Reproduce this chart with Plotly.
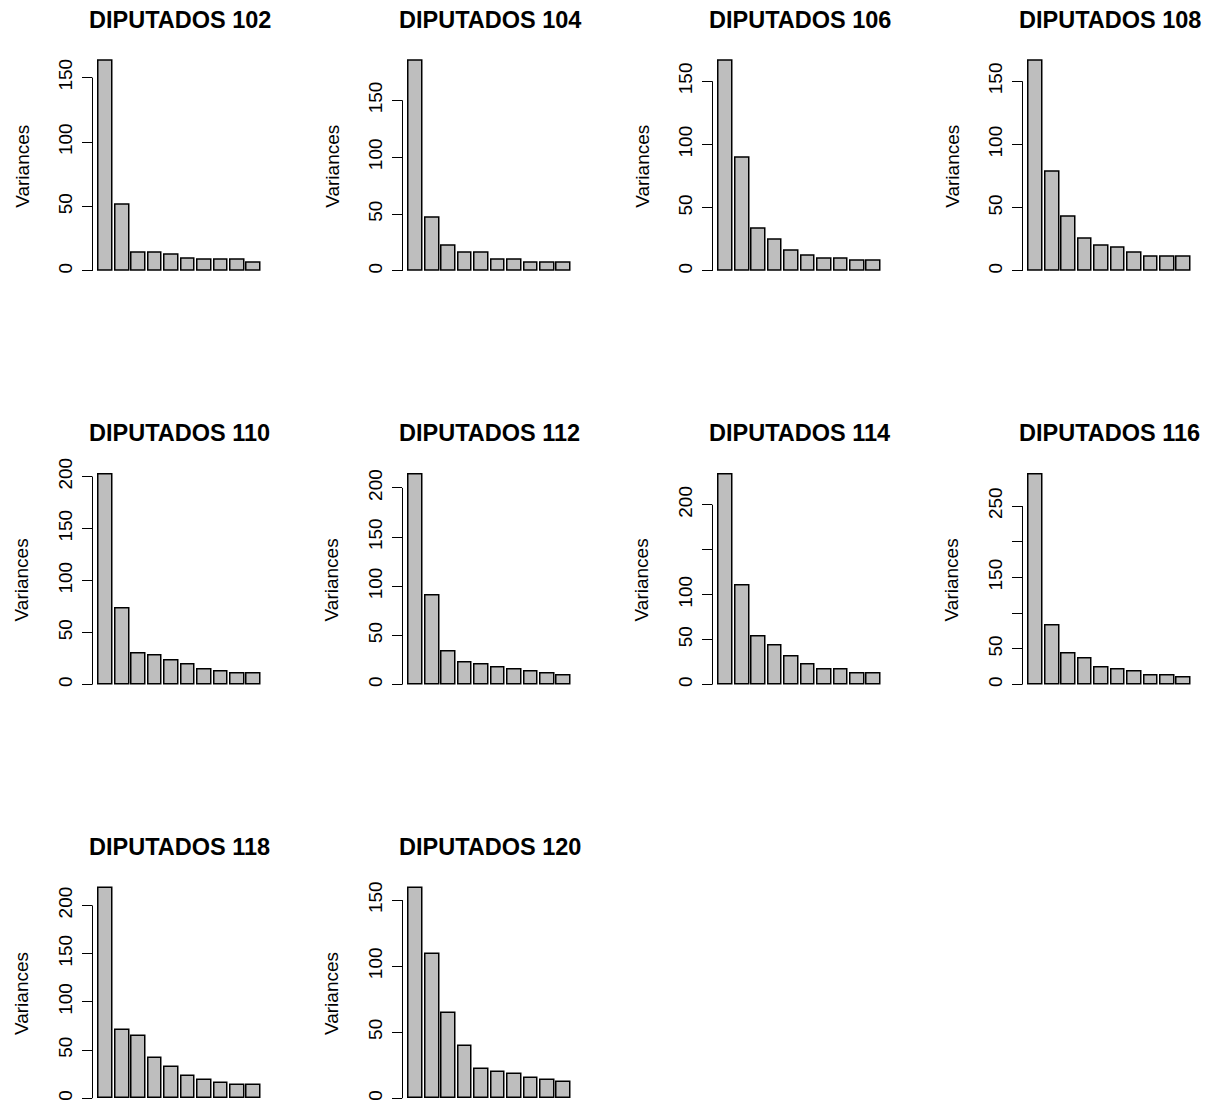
import plotly.graph_objects as go

# ---- data ----
titles = ["DIPUTADOS 102", "DIPUTADOS 104", "DIPUTADOS 106", "DIPUTADOS 108",
          "DIPUTADOS 110", "DIPUTADOS 112", "DIPUTADOS 114", "DIPUTADOS 116",
          "DIPUTADOS 118", "DIPUTADOS 120"]
components = ["PC1", "PC2", "PC3", "PC4", "PC5", "PC6", "PC7", "PC8", "PC9", "PC10"]

v102 = [162.7, 51.2, 14.0, 14.0, 12.4, 9.8, 8.3, 8.3, 8.3, 6.7]
v104 = [184.3, 46.9, 22.3, 15.8, 15.8, 9.7, 9.7, 7.3, 7.3, 7.3]
v106 = [165.8, 89.1, 33.2, 24.5, 16.1, 11.6, 9.8, 9.8, 8.4, 8.4]
v108 = [165.8, 78.6, 43.2, 25.8, 20.0, 18.7, 14.2, 11.3, 11.3, 11.3]
v110 = [201.6, 73.2, 30.3, 28.4, 23.2, 19.4, 14.5, 12.6, 10.3, 10.3]
v112 = [213.3, 90.8, 34.1, 22.5, 20.5, 17.1, 15.4, 13.3, 11.3, 9.2]
v114 = [233.2, 109.7, 53.4, 43.3, 31.0, 22.4, 16.8, 16.8, 11.9, 11.9]
v116 = [293.7, 83.2, 44.2, 36.2, 23.5, 21.1, 18.3, 12.7, 12.7, 9.9]
v118 = [217.6, 70.9, 64.7, 42.0, 32.4, 23.1, 18.9, 15.5, 13.4, 13.4]
v120 = [158.8, 108.8, 64.1, 39.2, 22.4, 19.6, 18.1, 15.3, 14.1, 12.6]
series = [v102, v104, v106, v108, v110, v112, v114, v116, v118, v120]

# y tick positions and their labels (R drops labels that would overlap)
tickvals = [
    [0, 50, 100, 150], [0, 50, 100, 150], [0, 50, 100, 150], [0, 50, 100, 150],
    [0, 50, 100, 150, 200], [0, 50, 100, 150, 200], [0, 50, 100, 150, 200],
    [0, 50, 100, 150, 200, 250], [0, 50, 100, 150, 200], [0, 50, 100, 150],
]
ticktext = [
    ["0", "50", "100", "150"], ["0", "50", "100", "150"], ["0", "50", "100", "150"],
    ["0", "50", "100", "150"], ["0", "50", "100", "150", "200"],
    ["0", "50", "100", "150", "200"], ["0", "50", "100", "", "200"],
    ["0", "50", "", "150", "", "250"], ["0", "50", "100", "150", "200"],
    ["0", "50", "100", "150"],
]

# ---- layout geometry (pixels) ----
W, H = 1214, 1108
FONT = "Liberation Sans, Arial, Helvetica, sans-serif"
col_x0 = 92.5      # left edge of plot region, column 0
col_step = 310.0
plot_w = 174.6
row_y0 = 44.2      # top edge of plot region, row 0
row_step = 417.0
plot_h = 228.4
title_gap = 33.5
label_gap = 70.8

fig = go.Figure()
annotations = []
shapes = []

for k, (vals, title) in enumerate(zip(series, titles)):
    r, c = divmod(k, 4)
    n = k + 1
    xa = "x" if n == 1 else f"x{n}"
    ya = "y" if n == 1 else f"y{n}"
    xkey = "xaxis" if n == 1 else f"xaxis{n}"
    ykey = "yaxis" if n == 1 else f"yaxis{n}"

    px_left = col_x0 + col_step * c
    px_top = row_y0 + row_step * r
    xd = [px_left / W, (px_left + plot_w) / W]
    yd = [max(0.0, 1 - (px_top + plot_h) / H), 1 - px_top / H]

    xpos = [0.7 + 1.2 * i for i in range(len(vals))]
    fig.add_trace(go.Bar(
        x=xpos, y=vals, width=1.0, xaxis=xa, yaxis=ya,
        marker=dict(color="#BEBEBE", line=dict(color="black", width=1.5)),
        customdata=components, hovertemplate="%{customdata}: %{y}<extra></extra>",
        showlegend=False,
    ))

    vmax = max(vals)
    nb = len(vals)
    xl, xr = 0.2, 1.2 * nb
    ext = 0.04 * (xr - xl)
    fig.layout[xkey] = dict(domain=xd, range=[xl - ext, xr + ext], visible=False,
                            anchor=ya, fixedrange=True)
    fig.layout[ykey] = dict(
        domain=yd, range=[-0.04 * vmax, 1.04 * vmax], anchor=xa,
        showgrid=False, zeroline=False, showline=False,
        ticks="outside", ticklen=10, tickwidth=1, tickcolor="black",
        tickvals=tickvals[k], ticktext=ticktext[k], tickangle=-90,
        tickfont=dict(family=FONT, size=19, color="black"),
        ticklabelstandoff=2, fixedrange=True,
    )
    # axis line spans only the tick range, as in R
    shapes.append(dict(type="line", xref=f"{xa} domain", yref=ya,
                       x0=0, x1=0, y0=tickvals[k][0], y1=tickvals[k][-1],
                       line=dict(color="black", width=1)))
    # panel title
    annotations.append(dict(
        text=f"<b>{title}</b>", xref="paper", yref="paper",
        x=(px_left + plot_w / 2) / W, y=1 - (px_top - title_gap) / H,
        xanchor="center", yanchor="middle", showarrow=False,
        font=dict(family=FONT, size=23.5, color="black"),
    ))
    # y-axis label
    annotations.append(dict(
        text="Variances", xref="paper", yref="paper",
        x=(px_left - label_gap) / W, y=1 - (px_top + plot_h / 2) / H,
        xanchor="center", yanchor="middle", textangle=-90, showarrow=False,
        font=dict(family=FONT, size=19, color="black"),
    ))

fig.update_layout(
    width=W, height=H, margin=dict(l=0, r=0, t=0, b=0),
    paper_bgcolor="white", plot_bgcolor="white",
    annotations=annotations, shapes=shapes, bargap=0,
)

fig.write_html("out.html", config={"displayModeBar": False})
